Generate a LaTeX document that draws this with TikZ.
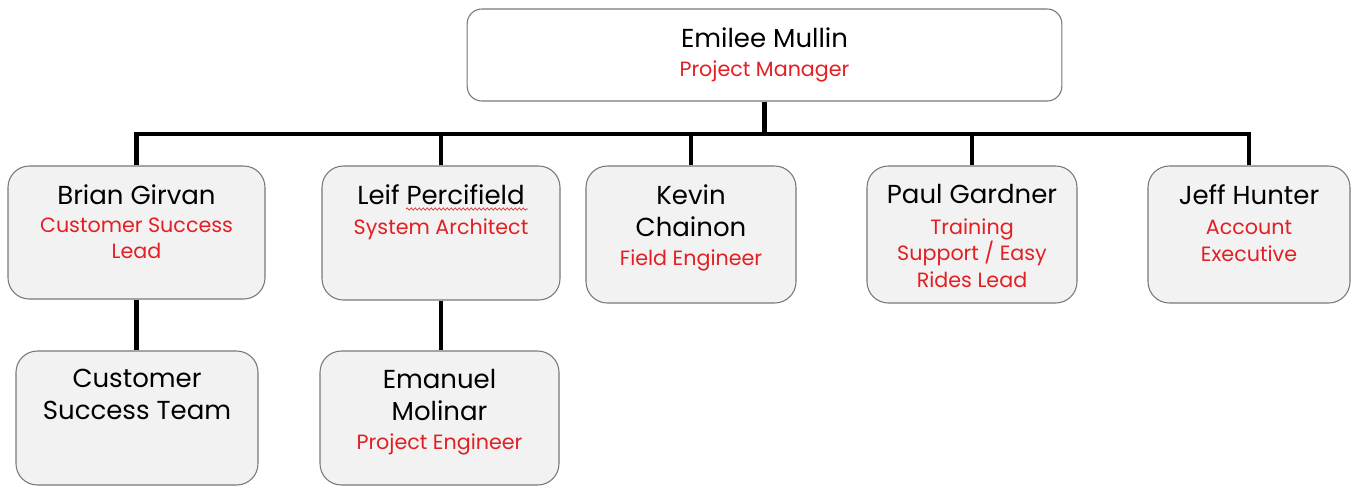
\documentclass[tikz,border=0pt]{standalone}
\usepackage{fontspec}
\setmainfont{Poppins}
\usetikzlibrary{positioning,decorations.pathmorphing}
\definecolor{rolered}{RGB}{226,32,36}
\definecolor{boxgray}{RGB}{120,120,120}
\definecolor{boxfill}{RGB}{242,242,242}
\newcommand{\role}[1]{\textcolor{rolered}{\fontsize{15.5}{20}\selectfont #1}}

\begin{document}
\begin{tikzpicture}[x=0.75pt,y=-0.75pt]
\tikzstyle{member}=[rectangle,draw=boxgray,fill=boxfill,line width=0.8pt,rounded corners=16pt,inner sep=0pt]
\tikzstyle{txt}=[align=center,inner sep=0pt,font=\fontsize{19.5}{20}\selectfont]
\tikzstyle{link}=[line width=3.6pt]
\useasboundingbox (0,0) rectangle (1351,487);
 % boxes
 \node[member,fill=white,rounded corners=11pt,minimum width=446pt,minimum height=69pt] (pm) at (764.5,55) {};
 \node[member,minimum width=192.75pt,minimum height=99.75pt] (bg) at (136.5,232.5) {};
 \node[member,minimum width=178.5pt,minimum height=100.5pt] (lp) at (441,233) {};
 \node[member,minimum width=157.5pt,minimum height=102.75pt] (kc) at (691,234.5) {};
 \node[member,minimum width=157.5pt,minimum height=102.75pt] (pg) at (972,234.5) {};
 \node[member,minimum width=151.5pt,minimum height=102.75pt] (jh) at (1249,234.5) {};
 \node[member,minimum width=181.5pt,minimum height=100.5pt] (cst) at (137,418) {};
 \node[member,minimum width=179.25pt,minimum height=100.5pt] (em) at (439.5,418) {};
 % texts
 \node[txt,below=14pt of pm.north] (pmt) {Emilee Mullin\\[2pt]\role{Project Manager}};
 \node[txt,below=14pt of bg.north] (bgt) {Brian Girvan\\[1pt]\role{Customer Success}\\\role{Lead}};
 \node[txt,below=14pt of lp.north] (lpt) {Leif Percifield\\[3pt]\role{System Architect}};
 \node[txt,below=14pt of kc.north] (kct) {Kevin\\[4pt]Chainon\\[2pt]\role{Field Engineer}};
 \node[txt,below=14pt of pg.north] (pgt) {Paul Gardner\\[3pt]\role{Training}\\\role{Support / Easy}\\\role{Rides Lead}};
 \node[txt,below=14pt of jh.north] (jht) {Jeff Hunter\\[3pt]\role{Account}\\\role{Executive}};
 \node[txt,below=14pt of cst.north] (cstt) {Customer\\[4pt]Success Team};
 \node[txt,below=14pt of em.north] (emt) {Emanuel\\[4pt]Molinar\\[2pt]\role{Project Engineer}};
 % spell-check wave under Percifield
 \coordinate (waveA) at (406,209);
 \coordinate (waveB) at (528,209);
 \draw[rolered,line width=0.5pt,decorate,decoration={snake,amplitude=0.8pt,segment length=3pt}] (waveA) -- (waveB);
 % links
 \coordinate (bus) at (764,134);
 \draw[link] (pm) -- (pm |- bus);
 \draw[link] (bg) -- (bg |- bus) -- (jh |- bus) -- (jh);
 \draw[link] (lp) -- (lp |- bus);
 \draw[link] (kc) -- (kc |- bus);
 \draw[link] (pg) -- (pg |- bus);
 \draw[link] (bg) -- (bg |- cst.north);
 \draw[link] (lp) -- (lp |- em.north);
\end{tikzpicture}
\end{document}
